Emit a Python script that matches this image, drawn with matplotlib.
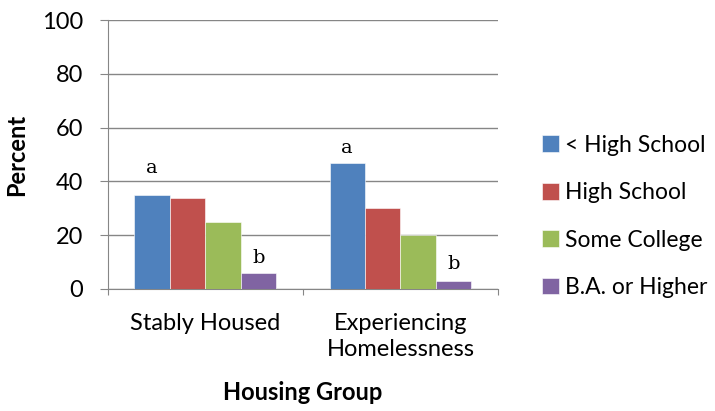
import numpy as np
import matplotlib.pyplot as plt

groups = ["Stably Housed", "Experiencing\nHomelessness"]
levels = ["< High School", "High School", "Some College", "B.A. or Higher"]
values = [
  [35, 47],   # < High School
  [34, 30],   # High School
  [25, 20],   # Some College
  [6, 3],     # B.A. or Higher
]
colors = ["#4F81BD", "#C0504D", "#9BBB59", "#8064A2"]
# significance letters: (level index, group index, letter, gap above bar)
sig = [(0, 0, "a", 6.5), (0, 1, "a", 2.0), (3, 0, "b", 2.0), (3, 1, "b", 2.8)]

plt.rcParams['font.family'] = ['Lato', 'DejaVu Sans']
fig = plt.figure(figsize=(7.15, 4.11), dpi=100)
ax = fig.add_axes([0.151, 0.297, 0.5455, 0.654])

x = np.arange(len(groups))
w = 0.182
for i in range(len(levels)):
  ax.bar(x + (i - 1.5) * w, values[i], w, color=colors[i], label=levels[i],
         edgecolor="white", linewidth=0.4, zorder=3)

for li, gi, letter, gap in sig:
  ax.text(x[gi] + (li - 1.5) * w, values[li][gi] + gap, letter,
          family="DejaVu Serif", fontsize=14, ha="center", va="bottom")

grid_c = "#868686"
ax.set_ylim(0, 100)
ax.set_xlim(-0.5, 1.5)
ax.set_yticks(range(0, 101, 20))
ax.yaxis.grid(True, color=grid_c, linewidth=1, zorder=0)
ax.set_xticks([-0.5, 0.5, 1.5])
ax.set_xticklabels([])
ax.set_xticks(x, minor=True)
ax.set_xticklabels(groups, minor=True, fontsize=17, linespacing=1.35)
ax.tick_params(axis="x", which="minor", length=0, pad=17)
ax.tick_params(axis="x", which="major", length=4.5, color=grid_c, direction="out")
ax.tick_params(axis="y", length=5.8, color=grid_c, labelsize=17, pad=12)
for s in ["top", "right"]:
  ax.spines[s].set_visible(False)
for s in ["left", "bottom"]:
  ax.spines[s].set_color(grid_c)

ax.set_ylabel("Percent", fontsize=17, fontweight="bold", labelpad=10)
ax.set_xlabel("Housing Group", fontsize=17, fontweight="bold", labelpad=15)

ax.legend(loc="center left", bbox_to_anchor=(1.06, 0.27), frameon=False,
          fontsize=16.5, handlelength=0.75, handleheight=0.75, labelspacing=1.15,
          handletextpad=0.25)

plt.savefig("out.png", dpi=100)
